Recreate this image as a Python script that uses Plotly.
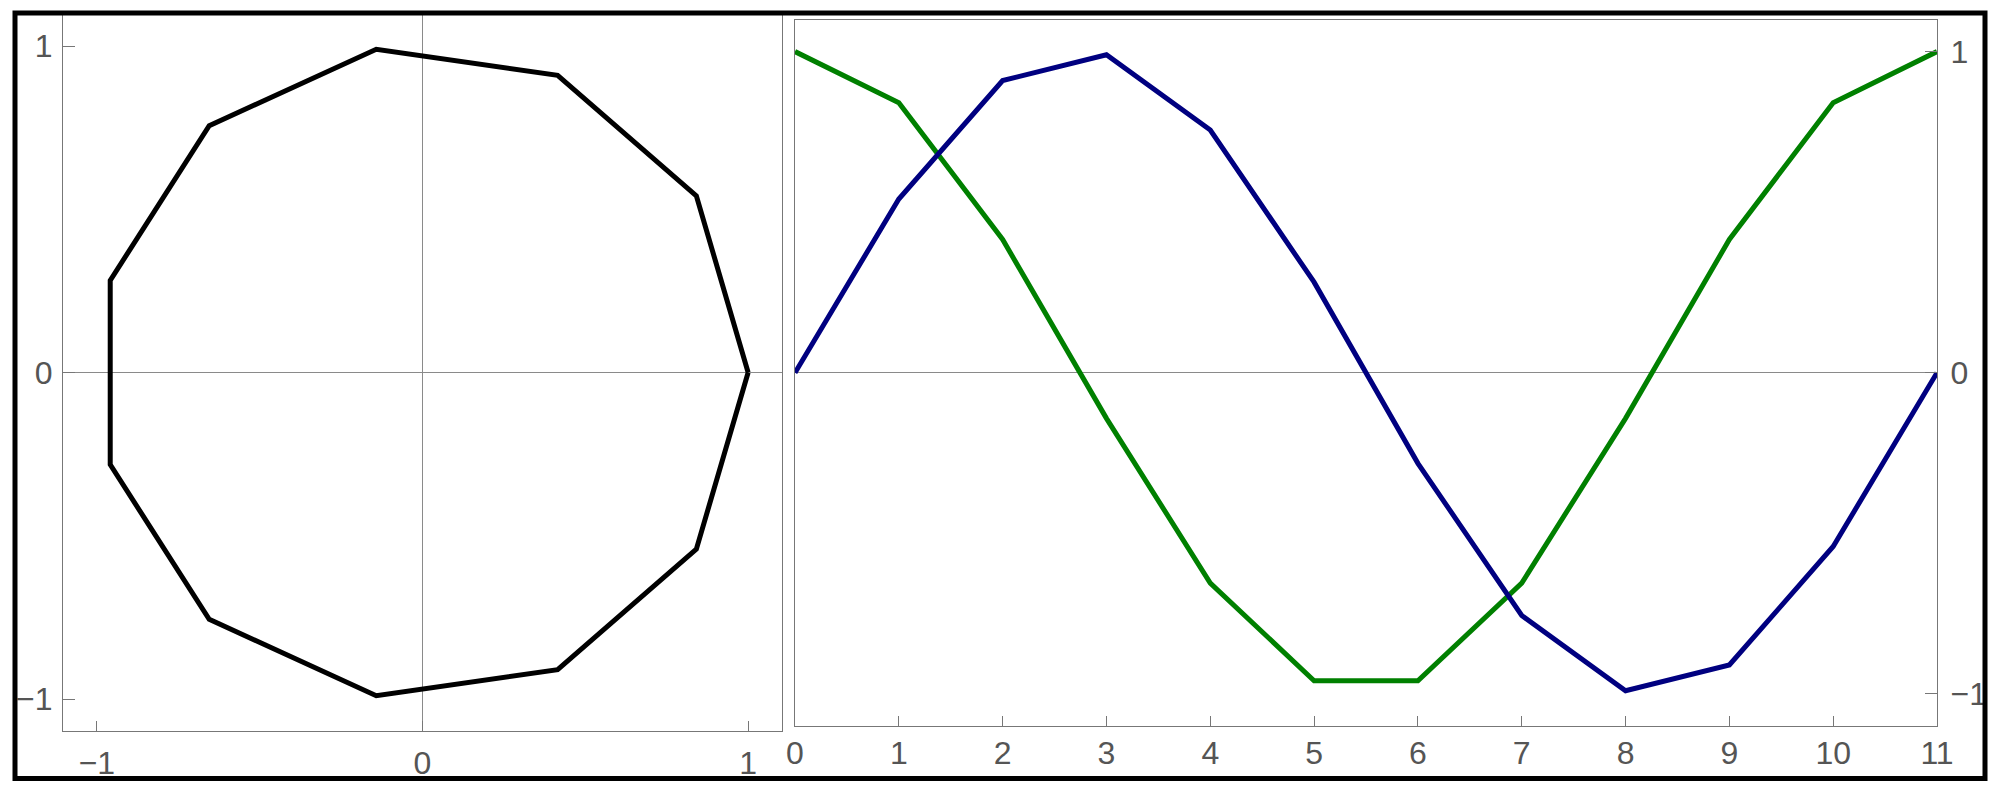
import plotly.graph_objects as go

# Left panel: polygon vertices
poly_x = [1.0, 0.841, 0.415, -0.142, -0.655, -0.959, -0.959, -0.655, -0.142, 0.415, 0.841, 1.0]
poly_y = [0.0, 0.541, 0.910, 0.990, 0.756, 0.282, -0.282, -0.756, -0.990, -0.910, -0.541, 0.0]

# Right panel: two series over index 0..11
idx = [0, 1, 2, 3, 4, 5, 6, 7, 8, 9, 10, 11]
green_vals = [1.0, 0.841, 0.415, -0.142, -0.655, -0.959, -0.959, -0.655, -0.142, 0.415, 0.841, 1.0]
blue_vals = [0.0, 0.541, 0.910, 0.990, 0.756, 0.282, -0.282, -0.756, -0.990, -0.910, -0.541, 0.0]

left_ticks = [-1, 0, 1]
left_ticktext = ["\u22121", "0", "1"]
right_xticks = idx
right_xticktext = [str(i) for i in idx]

W, H = 2000, 792
def px_x(a): return a / W
def px_y(a): return (H - a) / H

fig = go.Figure()
fig.add_trace(go.Scatter(x=poly_x, y=poly_y, mode="lines",
                         line=dict(color="black", width=5), xaxis="x", yaxis="y",
                         showlegend=False, hoverinfo="skip"))
fig.add_trace(go.Scatter(x=idx, y=green_vals, mode="lines",
                         line=dict(color="rgb(0,128,0)", width=5), xaxis="x2", yaxis="y2",
                         showlegend=False))
fig.add_trace(go.Scatter(x=idx, y=blue_vals, mode="lines",
                         line=dict(color="rgb(0,0,128)", width=5), xaxis="x2", yaxis="y2",
                         showlegend=False))

axis_common = dict(showgrid=False, showline=True, mirror=True, linecolor="#777777",
                   linewidth=1.3, tickcolor="#777777", tickwidth=1.3, ticks="inside",
                   zeroline=True, zerolinecolor="#8a8a8a", zerolinewidth=1,
                   automargin=False,
                   tickfont=dict(family="Liberation Sans, Arial", size=32, color="#555555"))

fig.update_layout(
    width=W, height=H, autosize=False,
    margin=dict(l=0, r=0, t=0, b=0, pad=0, autoexpand=False),
    paper_bgcolor="white", plot_bgcolor="white",
    xaxis=dict(domain=[px_x(63), px_x(782)], range=[-1.104, 1.104],
               tickvals=left_ticks, ticktext=left_ticktext, ticklen=10,
               ticklabelstandoff=3, anchor="y", **axis_common),
    yaxis=dict(domain=[px_y(731), px_y(14)], range=[-1.098, 1.098],
               tickvals=left_ticks, ticktext=left_ticktext, ticklen=12,
               ticklabelstandoff=3, anchor="x", **axis_common),
    xaxis2=dict(domain=[px_x(795), px_x(1937)], range=[0, 11],
                tickvals=right_xticks, ticktext=right_xticktext, ticklen=10,
                ticklabelstandoff=-2, anchor="y2", **axis_common),
    yaxis2=dict(domain=[px_y(726), px_y(19.5)], range=[-1.1, 1.1], side="right",
                tickvals=left_ticks, ticktext=left_ticktext, ticklen=12,
                ticklabelstandoff=6, anchor="x2", **axis_common),
    shapes=[dict(type="rect", xref="paper", yref="paper",
                 x0=px_x(15), x1=px_x(1985), y0=px_y(778.5), y1=px_y(13),
                 line=dict(color="black", width=5), fillcolor="rgba(0,0,0,0)", layer="above")],
)

fig.write_html("out.html", config={"displayModeBar": False},
               post_script="document.body.style.margin='0';document.body.style.overflow='hidden';")
